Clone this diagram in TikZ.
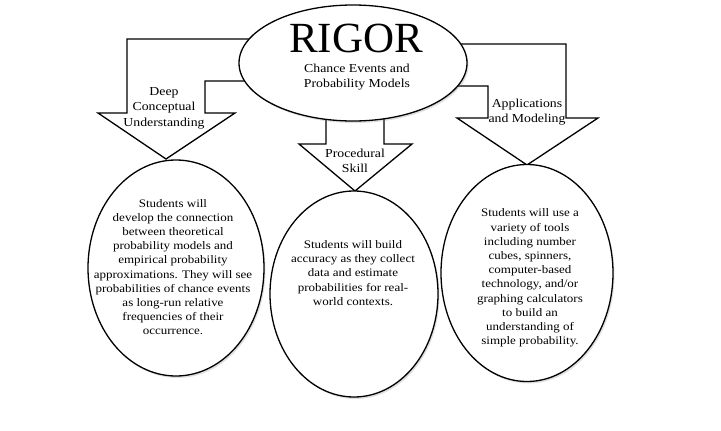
\documentclass[tikz,border=0pt]{standalone}
\usepackage{fontspec}
\setmainfont{Liberation Serif}
\newfontfamily\widefont{Liberation Serif}[FakeStretch=1.13]
\usetikzlibrary{shapes.geometric,shadows}
\tikzset{
  bubble/.style={ellipse,draw,fill=white,line width=1.3pt,inner sep=0pt,
    drop shadow={opacity=0.25,shadow xshift=1.5pt,shadow yshift=-2pt}},
  blockarrow/.style={draw,fill=white,line width=1.3pt,line join=miter},
  arrowlabel/.style={align=center,font=\widefont\fontsize{12.2}{15.5}\selectfont},
  bubbletext/.style={align=center,font=\widefont\fontsize{11.5}{14.2}\selectfont}
}
\begin{document}
\begin{tikzpicture}[x=1pt,y=-1pt]
        \useasboundingbox (0,0) rectangle (721,431);
        % arrow points
        \coordinate (L1) at (260,39);
        \coordinate (L2) at (127,39);
        \coordinate (L3) at (127,113);
        \coordinate (L4) at (98,113);
        \coordinate (L5) at (166,159);
        \coordinate (L6) at (235,113);
        \coordinate (L7) at (205,113);
        \coordinate (L8) at (205,81);
        \coordinate (L9) at (260,81);
        \coordinate (M1) at (326,110);
        \coordinate (M2) at (326,144);
        \coordinate (M3) at (299,144);
        \coordinate (M4) at (355,191);
        \coordinate (M5) at (412,144);
        \coordinate (M6) at (384,144);
        \coordinate (M7) at (384,110);
        \coordinate (R1) at (445,44);
        \coordinate (R2) at (566,44);
        \coordinate (R3) at (566,118);
        \coordinate (R4) at (598,118);
        \coordinate (R5) at (527,165);
        \coordinate (R6) at (457,118);
        \coordinate (R7) at (488,118);
        \coordinate (R8) at (488,86);
        \coordinate (R9) at (445,86);

        \draw[blockarrow] (L1) -- (L2) -- (L3) -- (L4) -- (L5) -- (L6) -- (L7) -- (L8) -- (L9) -- cycle;
        \draw[blockarrow] (M1) -- (M2) -- (M3) -- (M4) -- (M5) -- (M6) -- (M7) -- cycle;
        \draw[blockarrow] (R1) -- (R2) -- (R3) -- (R4) -- (R5) -- (R6) -- (R7) -- (R8) -- (R9) -- cycle;

        % top ellipse
        \node[bubble,minimum width=228pt,minimum height=116pt] (rigor) at (353,63) {};
        \node[font=\fontsize{43}{43}\selectfont] (title) at (356,38) {RIGOR};
        \node[arrowlabel] (topic) at (357,77) {Chance Events and\\Probability Models};

        % arrow labels
        \node[arrowlabel] (deep) at (164,108) {Deep\\Conceptual\\Understanding};
        \node[arrowlabel] (skill) at (355,161) {Procedural\\Skill};
        \node[arrowlabel] (apps) at (527,112) {Applications\\and Modeling};

        % bottom ellipses
        \node[bubble,minimum width=176pt,minimum height=216pt] (conc) at (176,268) {};
        \node[bubble,minimum width=168pt,minimum height=206pt] (proc) at (354,294) {};
        \node[bubble,minimum width=172pt,minimum height=217pt] (appl) at (527,273) {};

        \node[bubbletext] (conctext) at (173,267) {Students will\\develop the connection\\between theoretical\\probability models and\\empirical probability\\approximations. They will see\\probabilities of chance events\\as long-run relative\\frequencies of their\\occurrence.};
        \node[bubbletext] (proctext) at (353,273) {Students will build\\accuracy as they collect\\data and estimate\\probabilities for real-\\world contexts.};
        \node[bubbletext] (appltext) at (530,278) {Students will use a\\variety of tools\\including number\\cubes, spinners,\\computer-based\\technology, and/or\\graphing calculators\\to build an\\understanding of\\simple probability.};
    \end{tikzpicture}
\end{document}
